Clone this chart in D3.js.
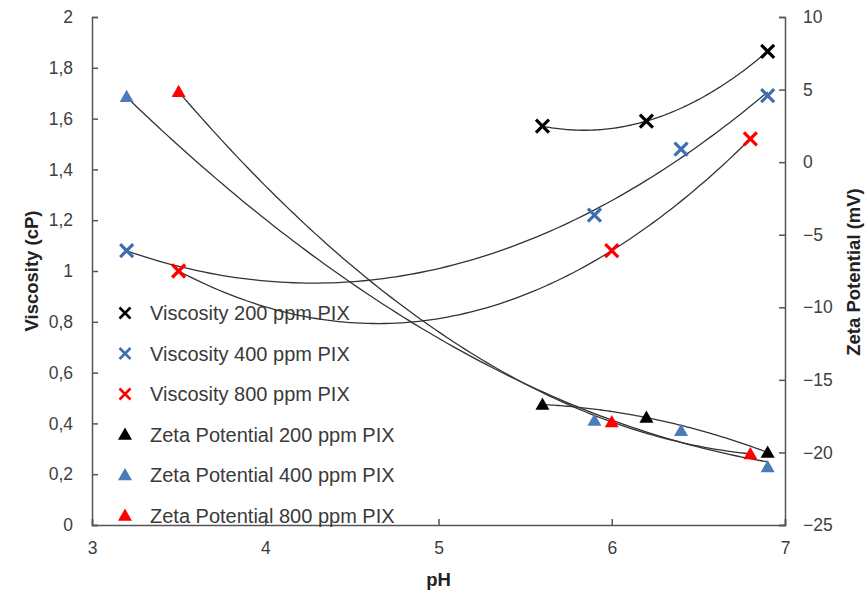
<!DOCTYPE html>
<html>
<head>
<meta charset="utf-8">
<script src="https://cdn.jsdelivr.net/npm/d3@7"></script>
<style>
  body { margin: 0; background: #fff; }
</style>
</head>
<body>
<div id="chart"></div>
<script>
// data
const visc200 = [[5.6, 1.57], [6.2, 1.59], [6.9, 1.865]];
const visc400 = [[3.2, 1.08], [5.9, 1.22], [6.4, 1.48], [6.9, 1.69]];
const visc800 = [[3.5, 1.0], [6.0, 1.08], [6.8, 1.52]];
const zeta200 = [[5.6, -16.7], [6.2, -17.6], [6.9, -20.0]];
const zeta400 = [[3.2, 4.5], [5.9, -17.8], [6.4, -18.5], [6.9, -21.0]];
const zeta800 = [[3.5, 4.85], [6.0, -17.9], [6.8, -20.1]];

const xTicks = [3, 4, 5, 6, 7];
const viscTicks = [0, 0.2, 0.4, 0.6, 0.8, 1, 1.2, 1.4, 1.6, 1.8, 2];
const zetaTicks = [-25, -20, -15, -10, -5, 0, 5, 10];

const legendNames = [
  "Viscosity 200 ppm PIX", "Viscosity 400 ppm PIX", "Viscosity 800 ppm PIX",
  "Zeta Potential 200  ppm PIX", "Zeta Potential 400  ppm PIX", "Zeta Potential 800  ppm PIX"
];

const width = 868, height = 590;
const margin = { top: 17, right: 83, bottom: 65, left: 92 };
const font = "Arial, 'Liberation Sans', sans-serif";

const svg = d3.select("#chart").append("svg")
  .attr("width", width)
  .attr("height", height)
  .style("font-family", font);

const x = d3.scaleLinear().domain([3, 7]).range([margin.left, width - margin.right]);
const yL = d3.scaleLinear().domain([0, 2]).range([height - margin.bottom, margin.top]);
const yR = d3.scaleLinear().domain([-25, 10]).range([height - margin.bottom, margin.top]);

const series = [
  { name: legendNames[0], pts: visc200, y: yL, color: "#000000", shape: "x" },
  { name: legendNames[1], pts: visc400, y: yL, color: "#3d6fb0", shape: "x" },
  { name: legendNames[2], pts: visc800, y: yL, color: "#ff0000", shape: "x" },
  { name: legendNames[3], pts: zeta200, y: yR, color: "#000000", shape: "tri" },
  { name: legendNames[4], pts: zeta400, y: yR, color: "#4a7bbb", shape: "tri" },
  { name: legendNames[5], pts: zeta800, y: yR, color: "#ff0000", shape: "tri" }
];

// least squares 2nd order polynomial (like Excel's trendline)
function polyFit2(pts) {
  let s0 = 0, s1 = 0, s2 = 0, s3 = 0, s4 = 0, t0 = 0, t1 = 0, t2 = 0;
  pts.forEach(([a, b]) => {
    s0 += 1; s1 += a; s2 += a * a; s3 += a ** 3; s4 += a ** 4;
    t0 += b; t1 += a * b; t2 += a * a * b;
  });
  const M = [[s0, s1, s2, t0], [s1, s2, s3, t1], [s2, s3, s4, t2]];
  for (let i = 0; i < 3; i++) {
    for (let j = i + 1; j < 3; j++) {
      const f = M[j][i] / M[i][i];
      for (let k = i; k < 4; k++) M[j][k] -= f * M[i][k];
    }
  }
  const c = [0, 0, 0];
  for (let i = 2; i >= 0; i--) {
    let s = M[i][3];
    for (let k = i + 1; k < 3; k++) s -= M[i][k] * c[k];
    c[i] = s / M[i][i];
  }
  return v => c[0] + c[1] * v + c[2] * v * v;
}

const fmt = d => String(d).replace(".", ",");

function styleAxis(g) {
  g.selectAll("text").attr("font-size", 17.5).attr("fill", "#404040").attr("font-family", font);
  g.selectAll("line, .domain").attr("stroke", "#555").attr("stroke-width", 1.5);
}

// axes
svg.append("g")
  .attr("transform", `translate(0,${height - margin.bottom})`)
  .call(d3.axisBottom(x).tickValues(xTicks).tickSize(-6).tickPadding(17).tickFormat(d3.format("d")))
  .call(styleAxis);

svg.append("g")
  .attr("transform", `translate(${margin.left},0)`)
  .call(d3.axisLeft(yL).tickValues(viscTicks).tickSize(-6).tickPadding(19).tickFormat(fmt))
  .call(styleAxis);

svg.append("g")
  .attr("transform", `translate(${width - margin.right},0)`)
  .call(d3.axisRight(yR).tickValues(zetaTicks).tickSize(-6).tickPadding(18).tickFormat(d3.format("d")))
  .call(styleAxis);

// axis titles
svg.append("text")
  .attr("transform", `translate(38,271) rotate(-90)`)
  .attr("text-anchor", "middle")
  .attr("font-size", 18.5).attr("font-weight", "bold").attr("fill", "#222")
  .text("Viscosity (cP)");

svg.append("text")
  .attr("transform", `translate(860,272) rotate(-90)`)
  .attr("text-anchor", "middle")
  .attr("font-size", 18.5).attr("font-weight", "bold").attr("fill", "#222")
  .text("Zeta Potential (mV)");

svg.append("text")
  .attr("x", x(5)).attr("y", 586)
  .attr("text-anchor", "middle")
  .attr("font-size", 18.5).attr("font-weight", "bold").attr("fill", "#222")
  .text("pH");

// trendlines
const trend = svg.append("g");
series.forEach(s => {
  const f = polyFit2(s.pts);
  const ext = d3.extent(s.pts, p => p[0]);
  const xs = d3.range(ext[0], ext[1] + 1e-9, (ext[1] - ext[0]) / 100);
  trend.append("path")
    .attr("fill", "none")
    .attr("stroke", "#333")
    .attr("stroke-width", 1.3)
    .attr("d", d3.line().x(v => x(v)).y(v => s.y(f(v)))(xs));
});

// markers
function drawMarker(g, shape, color, cx, cy, big) {
  if (shape === "x") {
    const r = big ? 6.5 : 5.5;
    g.append("path")
      .attr("d", `M${cx - r},${cy - r}L${cx + r},${cy + r}M${cx - r},${cy + r}L${cx + r},${cy - r}`)
      .attr("stroke", color).attr("stroke-width", big ? 3.2 : 2.5).attr("fill", "none");
  } else {
    const r = 7;
    g.append("path")
      .attr("d", `M${cx},${cy - r}L${cx + r},${cy + r * 0.75}L${cx - r},${cy + r * 0.75}Z`)
      .attr("fill", color);
  }
}

const marks = svg.append("g");
series.forEach(s => {
  s.pts.forEach(p => drawMarker(marks, s.shape, s.color, x(p[0]), s.y(p[1]), true));
});

// legend
const legend = svg.append("g");
series.forEach((s, i) => {
  const ly = 313 + i * 40.5;
  drawMarker(legend, s.shape, s.color, 125, ly, false);
  legend.append("text")
    .attr("x", 150).attr("y", ly)
    .attr("dy", "0.35em")
    .attr("font-size", 20)
    .attr("fill", "#3a3a3a")
    .text(s.name);
});
</script>
</body>
</html>
